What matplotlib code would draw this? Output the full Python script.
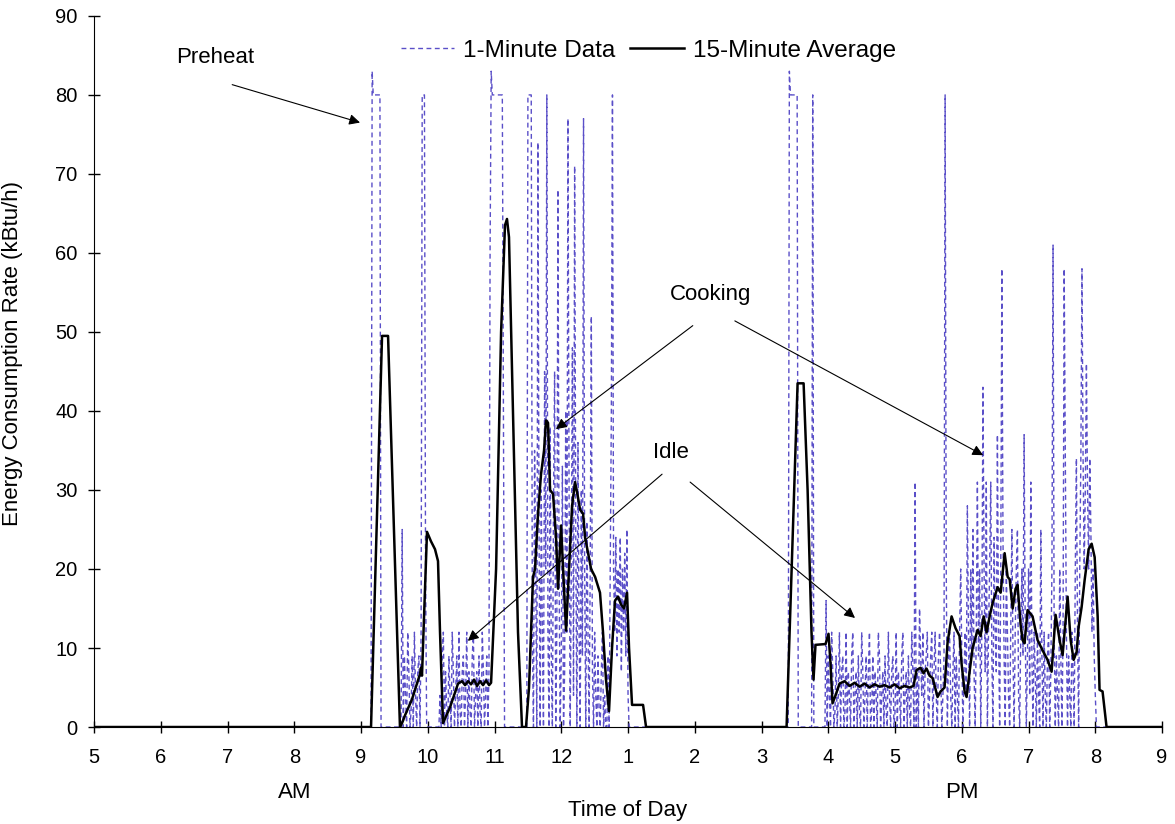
import numpy as np
import matplotlib
matplotlib.use("Agg")
import matplotlib.pyplot as plt

plt.rcParams['font.family'] = ['Liberation Sans', 'DejaVu Sans']

# hour ticks, 5 AM .. 9 PM
tick_hours = list(range(5, 22))
tick_labels = ['5', '6', '7', '8', '9', '10', '11', '12', '1', '2', '3', '4', '5', '6', '7', '8', '9']

# 1-minute data: (start clock time, readings one per minute); zero elsewhere
seg_starts = ["9:10", "9:37", "10:11", "10:56", "11:30",
              "15:25", "15:46", "15:58", "17:18", "17:45"]
seg_preheat_am = [83, 80, 80, 80, 80, 80, 80, 80]
seg_idle_am1 = [25, 0, 9, 4, 0, 12, 7, 0, 2, 9, 0, 12, 4, 0, 7, 9, 0, 12, 80, 80, 80, 20]
seg_idle_am2 = [4, 0, 9, 12, 0, 7, 2, 0, 9, 4, 0, 12, 7, 0, 4, 9, 0, 12, 2, 0, 7, 9, 0,
                4, 12, 0, 7, 2, 0, 9, 12, 0, 4, 7, 0, 9, 2, 0, 12, 7, 0, 4, 9, 0, 7]
seg_load_am = [60, 83, 80, 80, 80, 80, 80, 80, 80, 80, 80, 80, 40]
seg_cook_am = [80, 80, 80, 80, 12, 0, 35, 20, 0, 74, 25, 0, 30, 12, 0, 45, 20, 80, 12, 0,
               38, 9, 0, 28, 45, 0, 12, 68, 20, 0, 9, 33, 0, 7, 40, 12, 77, 30, 0, 20,
               48, 4, 71, 25, 0, 36, 12, 0, 30, 9, 77, 20, 0, 26, 12, 0, 20, 52, 7, 0,
               12, 4, 0, 9, 2, 0, 7, 12, 0, 4, 0, 0, 9, 0, 20, 40, 80, 20, 12, 24,
               9, 20, 12, 24, 7, 20, 12, 22, 9, 25, 4]
seg_preheat_pm = [83, 80, 80, 80, 80, 80, 80, 80]
seg_spike_pm = [80]
seg_idle_pm = [16, 0, 9, 4, 0, 12, 7, 0, 2, 9, 0, 4, 12, 0, 7, 9, 0, 2, 12, 0, 7, 4, 0, 9,
               12, 0, 4, 7, 0, 9, 2, 0, 12, 7, 0, 4, 9, 0, 7, 12, 0, 2, 9, 0, 7, 4, 0,
               12, 9, 0, 4, 7, 0, 9, 2, 0, 12, 4, 0, 7, 9, 0, 2, 12, 0, 7, 4, 0, 9, 12,
               0, 4, 7, 0, 9, 2, 0, 12, 7, 0]
seg_idle_pm2 = [31, 0, 7, 0, 15, 9, 4, 12, 0, 7, 9, 12, 0, 4, 9, 12, 0, 7, 12, 4, 0, 9,
                12, 7, 0, 4, 9]
seg_cook_pm = [80, 20, 0, 9, 12, 4, 0, 7, 12, 0, 9, 4, 0, 12, 20, 9, 0, 7, 12, 4,
               28, 12, 0, 20, 9, 25, 7, 0, 12, 31, 9, 20, 0, 12, 43, 20, 7, 31, 0, 12,
               20, 31, 9, 0, 24, 12, 7, 37, 12, 0, 20, 58, 24, 9, 0, 20, 12, 4, 0, 12,
               25, 9, 0, 12, 20, 25, 4, 0, 12, 20, 9, 37, 12, 0, 9, 20, 4, 31, 9, 0,
               12, 7, 0, 12, 4, 0, 25, 9, 0, 12, 4, 0, 9, 12, 0, 7, 20, 61, 12, 0,
               9, 4, 0, 20, 9, 0, 12, 58, 34, 12, 0, 9, 4, 0, 12, 7, 0, 20, 34, 12,
               0, 20, 34, 58, 34, 20, 30, 46, 30, 20, 34, 25, 12, 20, 9, 4, 0]
segments = [seg_preheat_am, seg_idle_am1, seg_idle_am2, seg_load_am, seg_cook_am,
            seg_preheat_pm, seg_spike_pm, seg_idle_pm, seg_idle_pm2, seg_cook_pm]

# 15-minute average (minutes after midnight, kBtu/h)
avg_time = [300, 549, 558.9, 564.3, 575, 576.9, 579.6, 585.8, 593, 593.9, 594.8, 599.3,
            602.9, 606.5, 609.2, 611, 613.7, 620, 627.2, 630.8, 633.5, 636.2, 638.9,
            641.6, 644.3, 647, 649.7, 652.4, 655.1, 656.9, 661.4, 665.9, 669.4, 671.2,
            673, 676.6, 681.1, 684.7, 688.3, 691, 694.6, 696.4, 699.1, 701.8, 704.5,
            706.3, 708.1, 709.9, 712.6, 715.3, 717.1, 719.8, 721.6, 724.3, 727, 729.7,
            732.4, 735.1, 736.9, 739.6, 741.4, 744.1, 746.8, 750.4, 754.8, 757.5, 760.2,
            762.9, 765.6, 768.3, 771, 773.7, 776.4, 779.1, 780.9, 783.6, 793.5, 796.2,
            922.5, 932.4, 937.8, 941.4, 944.9, 946.7, 948.5, 957.5, 960.2, 962, 963.8,
            966.5, 970.1, 974.6, 979.1, 983.6, 988.1, 992.6, 997.1, 1001.6, 1006.1,
            1010.6, 1015.1, 1019.6, 1024.1, 1028.5, 1033, 1036.6, 1039.3, 1042.9, 1045.6,
            1048.3, 1051, 1053.7, 1056.4, 1058.2, 1060.9, 1064.5, 1067.2, 1070.8, 1074.4,
            1078, 1079.8, 1082.5, 1084.3, 1087, 1089.7, 1094.2, 1096.9, 1099.6, 1102.3,
            1105, 1107.7, 1112.2, 1114.9, 1118.5, 1121.2, 1123, 1125.7, 1128.3, 1130.1,
            1132.8, 1134.6, 1136.4, 1139.1, 1143.6, 1148.1, 1152.6, 1157.1, 1160.7,
            1164.3, 1167.9, 1170.6, 1175.1, 1177.8, 1180.5, 1183.2, 1185, 1187.7, 1190.4,
            1194, 1196.7, 1199.4, 1202.1, 1203.8, 1206.5, 1210.1, 1260]
avg_val = [0, 0, 49.5, 49.5, 0, 0.5, 1.5, 3.5, 6.7, 7.5, 6.5, 24.7,
           23.5, 22.5, 21, 12, 0.5, 2.5, 5.5, 5.8, 5.3, 5.8, 5.4,
           6.0, 5.2, 5.8, 5.3, 5.9, 5.3, 5.6, 20, 50, 63.5, 64.3,
           62, 40, 12, 0, 0, 5, 19, 20, 27, 32, 35,
           38.8, 38.5, 30, 29.5, 24, 17.5, 25.5, 20, 12.2, 20, 28,
           31, 29, 27.5, 27, 24, 22, 20, 19, 17, 12, 6,
           2, 10, 16, 16.5, 15.5, 15, 17, 10, 2.8, 2.8, 0,
           0, 43.5, 43.5, 30, 12, 6, 10.4, 10.5, 11.8, 8, 3,
           4, 5.5, 5.8, 5.2, 5.6, 5.1, 5.5, 5.0, 5.4, 5.1,
           5.3, 5.0, 5.4, 4.9, 5.2, 5.0, 5.2, 7.2, 7.5, 6.8,
           7.4, 6.5, 6.2, 4.8, 3.8, 4.5, 5, 10.7, 14, 12.5,
           11.5, 8, 4.5, 3.8, 7, 10, 12.3, 11.5, 14, 12,
           14, 15.7, 17.7, 17, 22, 19, 18.7, 15, 17.5, 18,
           13, 11, 10.6, 14.8, 14, 11, 9.7, 8.5, 7,
           14.2, 11, 9.1, 16.5, 11, 8.5, 9.5, 12.7, 15.2, 18.6,
           22.5, 23.2, 21.5, 14, 4.7, 4.5, 0, 0]

# build the 1-minute series on a 5 AM - 9 PM grid
minutes = np.arange(300, 1261)
one_min = np.zeros(len(minutes))
for start, vals in zip(seg_starts, segments):
    h, m = start.split(':')
    i0 = int(h) * 60 + int(m) - 300
    one_min[i0:i0 + len(vals)] = vals

fig = plt.figure(figsize=(11.75, 8.24), dpi=100)
ax = fig.add_axes([0.08, 0.1177, 0.909, 0.863])

ax.plot(minutes / 60, one_min, color='#5a4fc8', lw=1.0, ls=(0, (3.5, 2.5)), label='1-Minute Data')
ax.plot(np.array(avg_time) / 60, avg_val, color='black', lw=1.8, label='15-Minute Average')

ax.set_xlim(5, 21)
ax.set_ylim(0, 90)
ax.set_xticks(tick_hours)
ax.set_xticklabels(tick_labels)
ax.set_yticks(range(0, 91, 10))
for s in ['top', 'right']:
    ax.spines[s].set_visible(False)
ax.tick_params(direction='inout', length=8.6, width=1, labelsize=14.5)
ax.tick_params(axis='x', pad=11)
ax.tick_params(axis='y', pad=7.5)
ax.set_ylabel('Energy Consumption Rate (kBtu/h)', fontsize=16)
ax.yaxis.set_label_coords(-0.0665, 0.525)
ax.set_xlabel('Time of Day', fontsize=16)
ax.xaxis.set_label_coords(0.5, -0.102)
ax.text(8.0, -8.35, 'AM', ha='center', va='center', fontsize=16)
ax.text(18.0, -8.35, 'PM', ha='center', va='center', fontsize=16)

ax.legend(loc='center', bbox_to_anchor=(0.519, 0.951), ncol=2, frameon=False,
          fontsize=17.5, handlelength=2.2, handletextpad=0.37, columnspacing=0.6)

arrow = dict(arrowstyle='-|>', color='black', lw=0.8, mutation_scale=16, shrinkA=0, shrinkB=0)
ax.text(6.81, 84.7, 'Preheat', ha='center', va='center', fontsize=16)
ax.annotate('', xy=(8.985, 76.5), xytext=(7.07, 81.3), arrowprops=arrow)
ax.text(14.23, 54.7, 'Cooking', ha='center', va='center', fontsize=16)
ax.annotate('', xy=(11.92, 37.7), xytext=(13.97, 50.8), arrowprops=arrow)
ax.annotate('', xy=(18.32, 34.4), xytext=(14.60, 51.4), arrowprops=arrow)
ax.text(13.65, 34.8, 'Idle', ha='center', va='center', fontsize=16)
ax.annotate('', xy=(10.60, 10.9), xytext=(13.51, 32.0), arrowprops=arrow)
ax.annotate('', xy=(16.40, 13.8), xytext=(13.93, 31.0), arrowprops=arrow)

fig.savefig('out.png', dpi=100)
